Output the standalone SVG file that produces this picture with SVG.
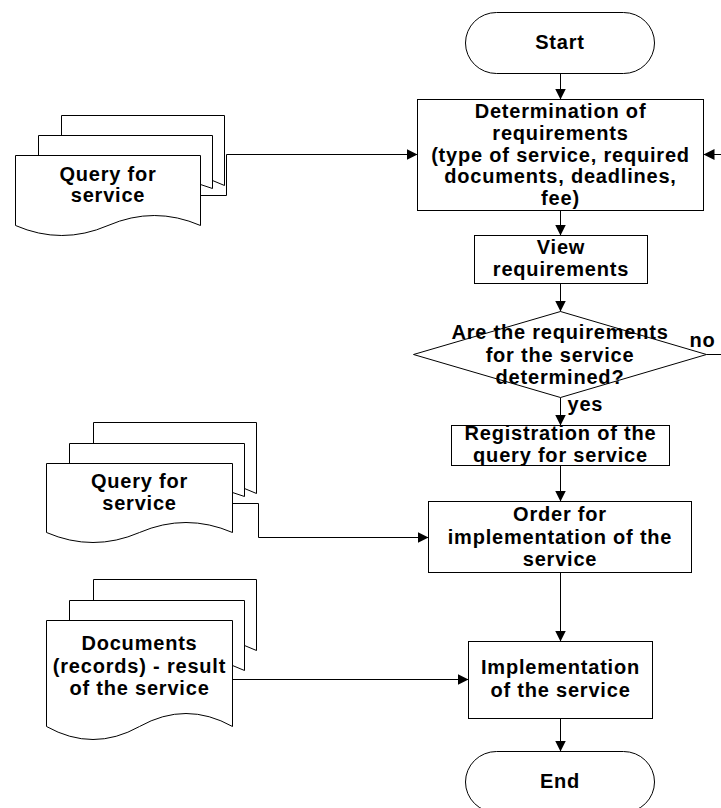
<svg xmlns="http://www.w3.org/2000/svg" width="721" height="808" viewBox="0 0 721 808">
  <style>
    .shape { fill: #fff; stroke: #000; stroke-width: 1; }
    .page { fill: none; stroke: #000; stroke-width: 1; }
    .conn { fill: none; stroke: #000; stroke-width: 1; }
    .arrow { marker-end: url(#arr); }
    text { font-family: "Liberation Sans", Arial, sans-serif; font-weight: bold; font-size: 20px; letter-spacing: 0.8px; fill: #000; text-anchor: middle; }
    text.lbl { text-anchor: start; }
  </style>
  <defs>
    <marker id="arr" markerWidth="12" markerHeight="12" refX="11" refY="6" orient="auto" markerUnits="userSpaceOnUse">
      <path d="M0,0.5 L11,6 L0,11.5 Z" fill="#000"/>
    </marker>
  </defs>
  <rect width="721" height="808" fill="#fff"/>
  <g transform="translate(0.5 0.5)">
    <!-- connectors -->
    <g id="connectors">
      <path class="conn arrow" d="M560,73 V99"/>
      <path class="conn arrow" d="M560,210 V235"/>
      <path class="conn arrow" d="M560,283 V311"/>
      <path class="conn arrow" d="M560,397 V425"/>
      <path class="conn arrow" d="M560,465 V501"/>
      <path class="conn arrow" d="M560,572 V641"/>
      <path class="conn arrow" d="M560,718 V751"/>
      <path class="conn arrow" d="M200,195 H226 V154 H417"/>
      <path class="conn arrow" d="M706,354 H726 V154 H703"/>
      <path class="conn arrow" d="M232,503 H258 V537 H428"/>
      <path class="conn arrow" d="M232,679 H468"/>
      <text class="lbl" x="689" y="346">no</text>
      <text class="lbl" x="567" y="410">yes</text>
    </g>

    <g id="start">
      <rect class="shape" x="465" y="12" width="189" height="61" rx="31" ry="30.5"/>
      <text x="559.5" y="48">Start</text>
    </g>

    <g id="determination">
      <rect class="shape" x="417" y="99" width="286" height="111"/>
      <text x="560" y="117">Determination of</text>
      <text x="560" y="139">requirements</text>
      <text x="560" y="161">(type of service, required</text>
      <text x="560" y="182.5">documents, deadlines,</text>
      <text x="560" y="204">fee)</text>
    </g>

    <g id="query1">
      <path class="page" d="M61,135 V115 H224 V185 L212,180"/>
      <path class="page" d="M38,155 V135 H212 V188 L200,184"/>
      <path class="shape" d="M15,155 H200 V225 Q153.75,205 107.5,225 Q61.25,245 15,225 Z"/>
      <text x="107.5" y="180">Query for</text>
      <text x="107.5" y="201">service</text>
    </g>

    <g id="view">
      <rect class="shape" x="474" y="235" width="173" height="48"/>
      <text x="560.5" y="253">View</text>
      <text x="560.5" y="275">requirements</text>
    </g>

    <g id="decision">
      <polygon class="shape" points="560,311 706,354 560,397 413,354"/>
      <text x="559.5" y="338">Are the requirements</text>
      <text x="559.5" y="361">for the service</text>
      <text x="559.5" y="383">determined?</text>
    </g>

    <g id="registration">
      <rect class="shape" x="451" y="425" width="218" height="40"/>
      <text x="560" y="439">Registration of the</text>
      <text x="560" y="461">query for service</text>
    </g>

    <g id="query2">
      <path class="page" d="M93,443 V422 H256 V493 L244,488"/>
      <path class="page" d="M69,463 V443 H244 V496 L232,492"/>
      <path class="shape" d="M46,463 H232 V532 Q185.5,512 139,532 Q92.5,552 46,532 Z"/>
      <text x="139" y="487">Query for</text>
      <text x="139" y="509">service</text>
    </g>

    <g id="order">
      <rect class="shape" x="428" y="501" width="263" height="71"/>
      <text x="559.5" y="520">Order for</text>
      <text x="559.5" y="543">implementation of the</text>
      <text x="559.5" y="565">service</text>
    </g>

    <g id="documents">
      <path class="page" d="M93,600 V579 H256 V650 L244,645"/>
      <path class="page" d="M69,620 V600 H244 V670 L232,665"/>
      <path class="shape" d="M46,620 H232 V726 Q185.5,700 139,726 Q92.5,752 46,726 Z"/>
      <text x="139" y="649">Documents</text>
      <text x="139" y="672">(records) - result</text>
      <text x="139" y="694">of the service</text>
    </g>

    <g id="implementation">
      <rect class="shape" x="468" y="641" width="184" height="77"/>
      <text x="560" y="673">Implementation</text>
      <text x="560" y="696">of the service</text>
    </g>

    <g id="end">
      <rect class="shape" x="465" y="751" width="189" height="61" rx="31" ry="30.5"/>
      <text x="559.5" y="787">End</text>
    </g>
  </g>
</svg>
